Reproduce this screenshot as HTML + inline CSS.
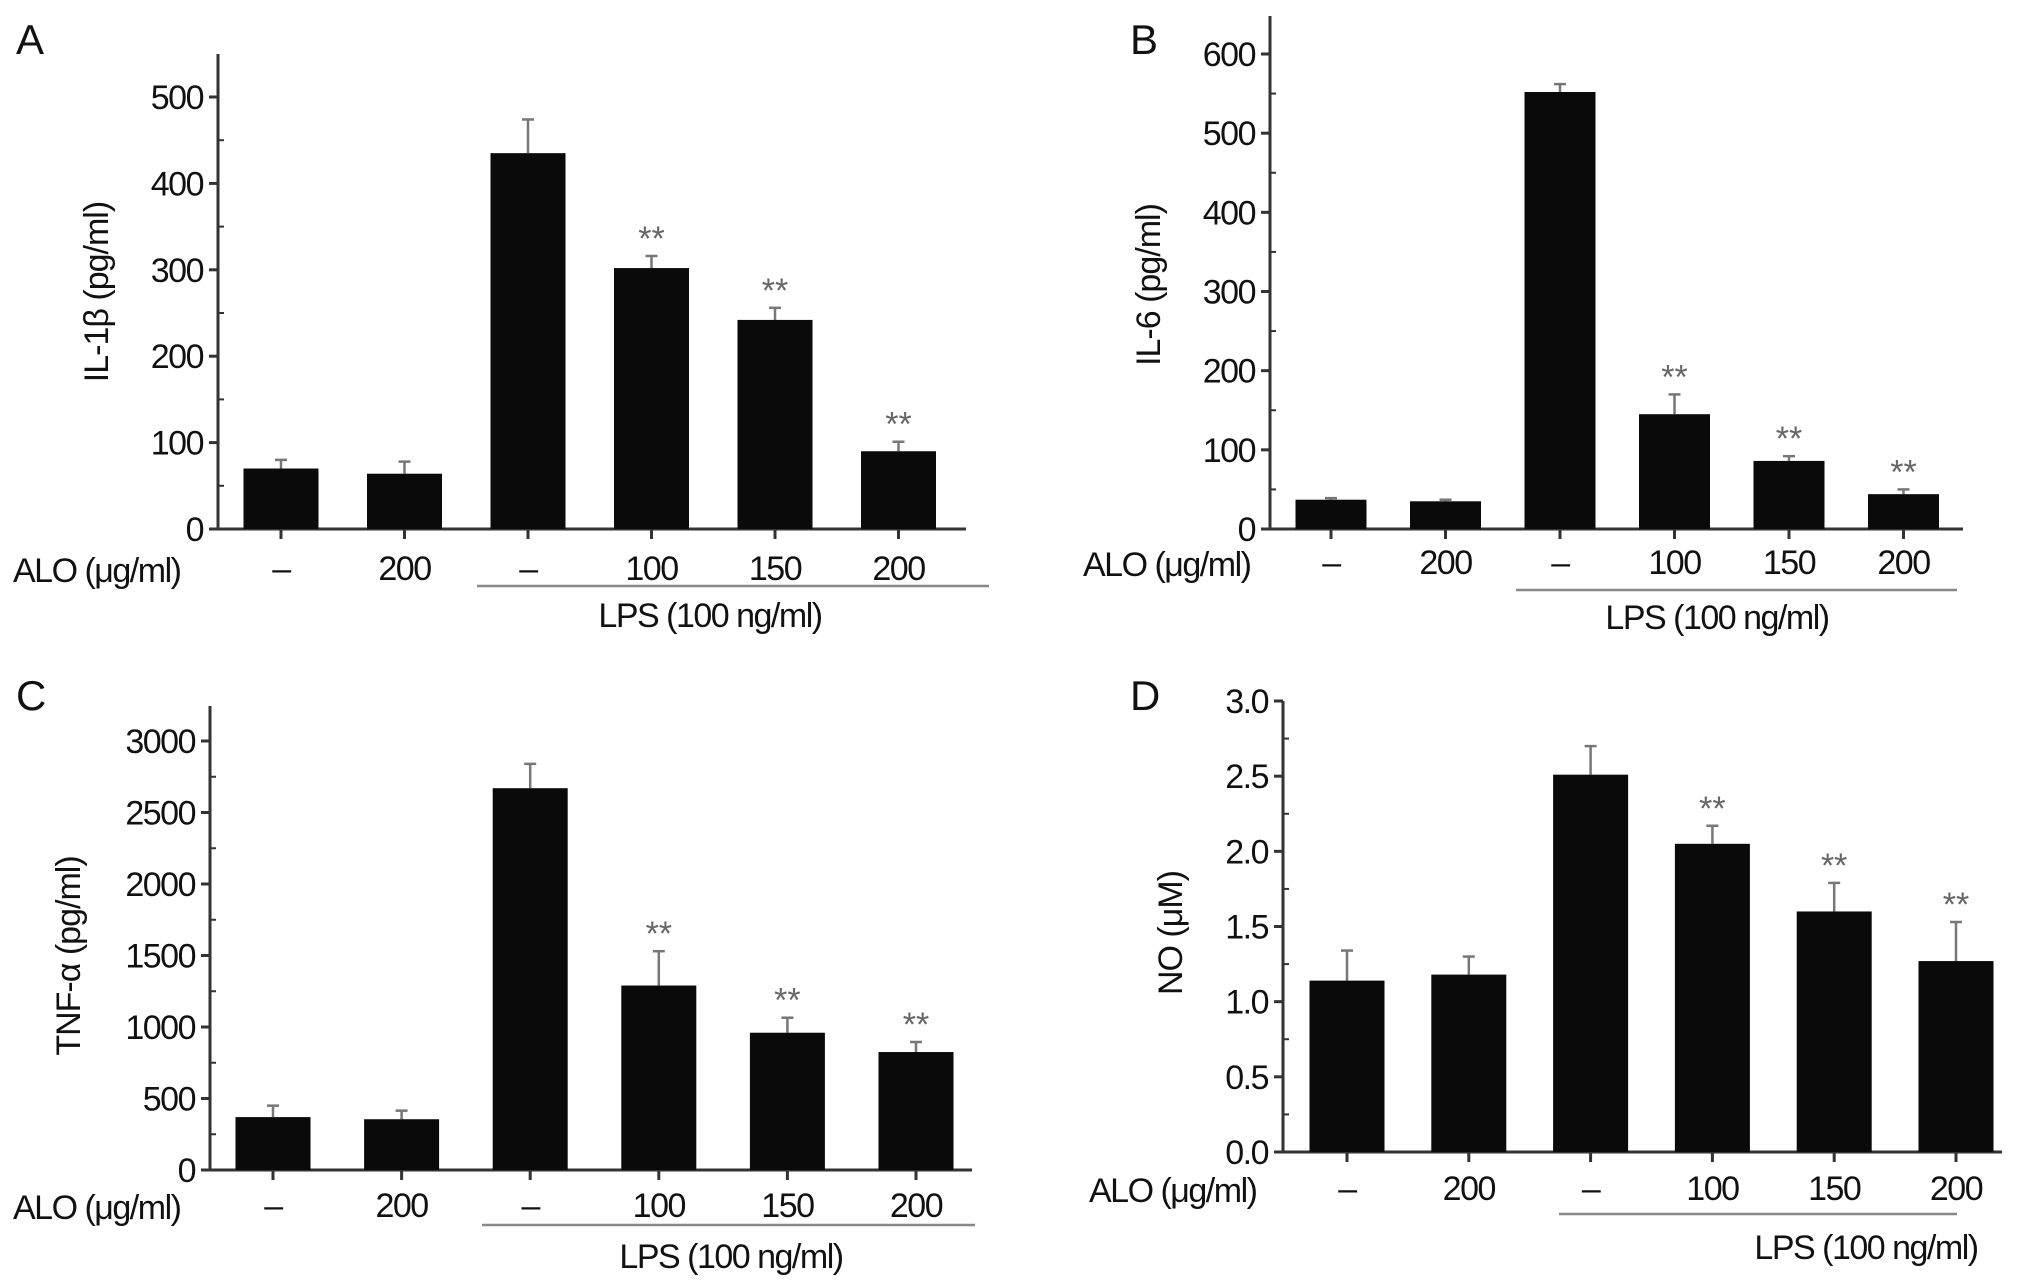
<!DOCTYPE html>
<html><head><meta charset="utf-8"><style>
html,body{margin:0;padding:0;background:#fff;}
svg{display:block;font-family:"Liberation Sans",sans-serif;}
</style></head><body>
<svg id="fig" width="2032" height="1287" viewBox="0 0 2032 1287"></svg>
<script>
const categories = ["–","200","–","100","150","200"];
const lpsLabel = "LPS (100 ng/ml)";
const valuesA = [70,64,435,302,242,90];
const errorsA = [80,78,474,316,256,101];
const ticksA = [0,100,200,300,400,500];
const sigA = [false,false,false,true,true,true];
const valuesB = [37,35,552,145,86,44];
const errorsB = [39,37,562,170,92,50];
const ticksB = [0,100,200,300,400,500,600];
const sigB = [false,false,false,true,true,true];
const valuesC = [370,355,2670,1290,960,825];
const errorsC = [450,415,2840,1530,1065,895];
const ticksC = [0,500,1000,1500,2000,2500,3000];
const sigC = [false,false,false,true,true,true];
const valuesD = [1.14,1.18,2.51,2.05,1.60,1.27];
const errorsD = [1.34,1.30,2.70,2.17,1.79,1.53];
const ticksD = ["0.0","0.5","1.0","1.5","2.0","2.5","3.0"];
const sigD = [false,false,false,true,true,true];

const svg = document.getElementById('fig');
const NS = "http://www.w3.org/2000/svg";
function mk(tag, attrs, parent){
  const e = document.createElementNS(NS, tag);
  for (const k in attrs) e.setAttribute(k, attrs[k]);
  (parent||svg).appendChild(e);
  return e;
}
const FS = 34;
function panel(cfg){
  const g = mk('g',{});
  
  
  const maxT = +cfg.ticks[cfg.ticks.length-1];
  const y = v => cfg.zero - (v/maxT)*(cfg.zero-cfg.ymax);
  const x = i => cfg.x0 + i*cfg.step;
  const letter = mk('text',{x:cfg.lx,y:cfg.ly,'font-size':42,fill:'#111'},g);
  letter.textContent = cfg.letter;
  
  
  const ya = mk('line',{x1:cfg.ax,y1:cfg.top,x2:cfg.ax,y2:cfg.zero,stroke:'#333','stroke-width':3},g);
  
  
  const xa = mk('line',{x1:cfg.ax,y1:cfg.zero,x2:cfg.xend,y2:cfg.zero,stroke:'#333','stroke-width':3},g);
  
  
  cfg.ticks.forEach((t,i)=>{
    const yy = y(+t);
    mk('line',{x1:cfg.ax-9,y1:yy,x2:cfg.ax,y2:yy,stroke:'#333','stroke-width':3},g);
    const tl = mk('text',{x:cfg.ax-15,y:yy+12,'font-size':FS,'text-anchor':'end',fill:'#111','letter-spacing':-1.5},g);
    tl.textContent = t;
    
    
    if (i < cfg.ticks.length-1){
      const ym = y((+t + +cfg.ticks[i+1])/2);
      mk('line',{x1:cfg.ax,y1:ym,x2:cfg.ax+6,y2:ym,stroke:'#333','stroke-width':2},g);
    }
  });
  const yt = mk('text',{x:cfg.tx,y:cfg.ty,'font-size':FS,'text-anchor':'middle',fill:'#111','letter-spacing':-1,transform:`rotate(-90 ${cfg.tx} ${cfg.ty})`},g);
  yt.textContent = cfg.title;
  
  
  cfg.values.forEach((v,i)=>{
    const cx = x(i);
    const eb = mk('line',{x1:cx,y1:y(cfg.errors[i]),x2:cx,y2:y(v),stroke:'#777','stroke-width':2.5},g);
    
    
    mk('line',{x1:cx-6,y1:y(cfg.errors[i]),x2:cx+6,y2:y(cfg.errors[i]),stroke:'#777','stroke-width':2.5},g);
    const b = mk('rect',{x:cx-cfg.bw/2,y:y(v),width:cfg.bw,height:cfg.zero-y(v),fill:'#0a0a0a'},g);
    
    
    mk('line',{x1:cx,y1:cfg.zero,x2:cx,y2:cfg.zero+10,stroke:'#333','stroke-width':3},g);
    if (cfg.sig[i]){
      const s = mk('text',{x:cx,y:y(cfg.errors[i])-6,'font-size':34,'text-anchor':'middle',fill:'#666'},g);
      s.textContent = '**';
      
      
    }
    const cl = mk('text',{x:cx,y:cfg.aloY,'font-size':FS,'text-anchor':'middle',fill:'#111','letter-spacing':-1.5},g);
    cl.textContent = categories[i];
    
    
  });
  const al = mk('text',{x:cfg.aloX,y:cfg.aloY+2,'font-size':FS,fill:'#111','letter-spacing':-1.5},g);
  al.textContent = 'ALO (μg/ml)';
  
  
  const ll = mk('line',{x1:cfg.lpsX1,y1:cfg.lpsLineY,x2:cfg.lpsX2,y2:cfg.lpsLineY,stroke:'#888','stroke-width':2.5},g);
  
  
  const lt = mk('text',{x:cfg.lpsTX,y:cfg.lpsTY,'font-size':FS,'text-anchor':'middle',fill:'#111','letter-spacing':-1.5},g);
  lt.textContent = lpsLabel;
  
  
}
panel({letter:'A',lx:16,ly:54,ax:218,top:54,zero:529,ymax:97,xend:966,x0:281,step:123.5,bw:75,
  values:valuesA,errors:errorsA,ticks:ticksA,sig:sigA,title:'IL-1β (pg/ml)',tx:108,ty:292,
  aloX:13,aloY:580,lpsX1:477,lpsX2:989,lpsLineY:586,lpsTX:710,lpsTY:627});
panel({letter:'B',lx:1130,ly:54,ax:1270,top:16,zero:529,ymax:54,xend:1963,x0:1331,step:114.5,bw:71,
  values:valuesB,errors:errorsB,ticks:ticksB,sig:sigB,title:'IL-6 (pg/ml)',tx:1160,ty:285,
  aloX:1083,aloY:574,lpsX1:1516,lpsX2:1957,lpsLineY:590,lpsTX:1717,lpsTY:629});
panel({letter:'C',lx:16,ly:710,ax:210,top:706,zero:1170,ymax:741,xend:972,x0:273,step:128.6,bw:75,
  values:valuesC,errors:errorsC,ticks:ticksC,sig:sigC,title:'TNF-α (pg/ml)',tx:80,ty:956,
  aloX:13,aloY:1217,lpsX1:482,lpsX2:975,lpsLineY:1225,lpsTX:731,lpsTY:1268});
panel({letter:'D',lx:1130,ly:710,ax:1283,top:701,zero:1152,ymax:701,xend:2002,x0:1347,step:121.8,bw:75,
  values:valuesD,errors:errorsD,ticks:ticksD,sig:sigD,title:'NO (μM)',tx:1182,ty:933,
  aloX:1089,aloY:1200,lpsX1:1559,lpsX2:1957,lpsLineY:1214,lpsTX:1866,lpsTY:1259});
</script>
</body></html>
